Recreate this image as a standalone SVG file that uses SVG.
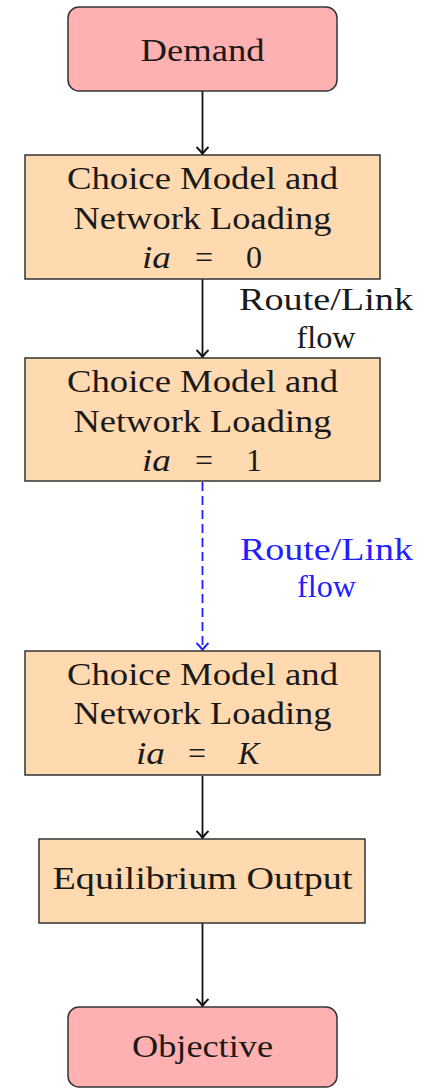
<svg xmlns="http://www.w3.org/2000/svg" width="426" height="1088" viewBox="0 0 426 1088">
<defs>
<style>
.term{fill:#ffb0b0;stroke:#333;stroke-width:1.5}
.proc{fill:#ffd9b0;stroke:#333;stroke-width:1.5}
text{font-family:'Liberation Serif','DejaVu Serif','Times New Roman',Times,serif;font-size:32px;fill:#1a1a1a}
.c{text-anchor:middle}
.m{font-style:italic}
.blue{fill:#1f1fff}
.edge{stroke:#111;stroke-width:1.8;fill:none}
.dash{stroke:#1f1fff;stroke-width:1.8;fill:none;stroke-dasharray:9 5}
</style>
<marker id="arr" markerUnits="userSpaceOnUse" markerWidth="16" markerHeight="16" refX="0" refY="0" viewBox="-9 -8 11 16" orient="auto">
<path d="M-7,-6 Q-2,-1 0,0 Q-2,1 -7,6" fill="none" stroke="#111" stroke-width="1.8"/>
</marker>
<marker id="arrb" markerUnits="userSpaceOnUse" markerWidth="16" markerHeight="16" refX="0" refY="0" viewBox="-9 -8 11 16" orient="auto">
<path d="M-7,-6 Q-2,-1 0,0 Q-2,1 -7,6" fill="none" stroke="#1f1fff" stroke-width="1.8"/>
</marker>
</defs>
<rect width="426" height="1088" fill="#fff"/>
<g id="connectors" font-family="Liberation Serif, DejaVu Serif, serif">
<line class="edge" x1="202.5" y1="91" x2="202.5" y2="154" marker-end="url(#arr)"/>
<line class="edge" x1="202.5" y1="279" x2="202.5" y2="357" marker-end="url(#arr)"/>
<line class="dash" x1="202.5" y1="482" x2="202.5" y2="650" marker-end="url(#arrb)"/>
<line class="edge" x1="202.5" y1="776" x2="202.5" y2="838" marker-end="url(#arr)"/>
<line class="edge" x1="202.5" y1="923" x2="202.5" y2="1006" marker-end="url(#arr)"/>
<g id="label1">
<text class="c" x="326" y="310" textLength="174" lengthAdjust="spacingAndGlyphs">Route/Link</text>
<text class="c" x="326" y="348" textLength="59" lengthAdjust="spacingAndGlyphs">flow</text>
</g>
<g id="label2">
<text class="c blue" x="326.5" y="560" textLength="173" lengthAdjust="spacingAndGlyphs">Route/Link</text>
<text class="c blue" x="326.5" y="597" textLength="59" lengthAdjust="spacingAndGlyphs">flow</text>
</g>
</g>
<g id="demand">
<rect class="term" x="68" y="7" width="269" height="84" rx="11"/>
<text class="c" x="202.5" y="61" textLength="124" lengthAdjust="spacingAndGlyphs">Demand</text>
</g>
<g id="cm0">
<rect class="proc" x="25" y="155" width="355" height="124"/>
<text class="c" x="202.5" y="189" textLength="271" lengthAdjust="spacingAndGlyphs">Choice Model and</text>
<text class="c" x="202.5" y="229" textLength="258" lengthAdjust="spacingAndGlyphs">Network Loading</text>
<text y="268"><tspan class="m" x="142" textLength="29" lengthAdjust="spacingAndGlyphs">ia</tspan><tspan x="195">=</tspan><tspan x="246">0</tspan></text>
</g>
<g id="cm1">
<rect class="proc" x="25" y="358" width="355" height="123"/>
<text class="c" x="202.5" y="392" textLength="271" lengthAdjust="spacingAndGlyphs">Choice Model and</text>
<text class="c" x="202.5" y="432" textLength="258" lengthAdjust="spacingAndGlyphs">Network Loading</text>
<text y="471"><tspan class="m" x="142" textLength="29" lengthAdjust="spacingAndGlyphs">ia</tspan><tspan x="195">=</tspan><tspan x="246">1</tspan></text>
</g>
<g id="cmK">
<rect class="proc" x="25" y="651" width="355" height="124"/>
<text class="c" x="202.5" y="685" textLength="271" lengthAdjust="spacingAndGlyphs">Choice Model and</text>
<text class="c" x="202.5" y="724" textLength="258" lengthAdjust="spacingAndGlyphs">Network Loading</text>
<text y="764"><tspan class="m" x="136" textLength="29" lengthAdjust="spacingAndGlyphs">ia</tspan><tspan x="188">=</tspan><tspan class="m" x="238">K</tspan></text>
</g>
<g id="equilibrium">
<rect class="proc" x="39" y="839" width="326" height="84"/>
<text class="c" x="202.5" y="889" textLength="300" lengthAdjust="spacingAndGlyphs">Equilibrium Output</text>
</g>
<g id="objective">
<rect class="term" x="68" y="1007" width="269" height="80" rx="11"/>
<text class="c" x="202.5" y="1057" textLength="141" lengthAdjust="spacingAndGlyphs">Objective</text>
</g>
</svg>
